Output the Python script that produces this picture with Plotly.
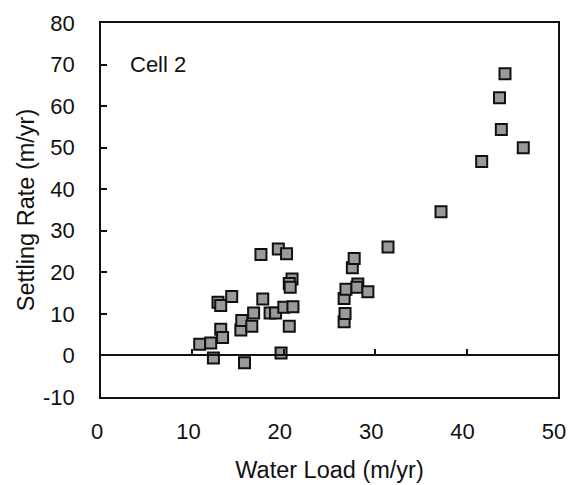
import plotly.graph_objects as go

water_load = [10.8, 12.0, 12.3, 13.1, 13.3, 12.8, 13.1, 14.3, 15.7, 15.3, 15.4, 16.5, 16.7,
              17.5, 17.7, 18.5, 19.1, 19.4, 20.3, 19.7, 20.6, 20.0, 21.0, 20.9, 20.6, 20.7,
              26.6, 26.7, 26.6, 26.8, 27.5, 27.7, 28.1, 28.0, 29.2, 31.4,
              37.2, 41.65, 43.6, 43.8, 44.2, 46.2]
settling_rate = [2.7, 3.0, -0.6, 6.3, 4.3, 12.8, 12.0, 14.2, -1.75, 6.1, 8.4, 7.0, 10.2,
                 24.3, 13.6, 10.2, 10.2, 25.6, 24.5, 0.6, 7.0, 11.6, 11.7, 18.4, 17.3, 16.4,
                 8.1, 10.1, 13.7, 15.9, 21.1, 23.3, 17.2, 16.4, 15.3, 26.1,
                 34.6, 46.7, 62.0, 54.4, 67.8, 50.0]

x_ticks = [0, 10, 20, 30, 40, 50]
y_ticks = [-10, 0, 10, 20, 30, 40, 50, 60, 70, 80]
y_tick_text = [str(v) for v in y_ticks]

font_family = "Liberation Sans, Arial, sans-serif"

fig = go.Figure()
fig.add_trace(go.Scatter(
    x=water_load, y=settling_rate, mode="markers",
    marker=dict(symbol="square", size=11, color="#9a9a9a",
                line=dict(color="#111111", width=2)),
    xaxis="x", yaxis="y", showlegend=False,
))
# invisible trace to activate zero-line axis
fig.add_trace(go.Scatter(x=[0, 50], y=[0, 0], mode="lines",
                         line=dict(color="rgba(0,0,0,0)"),
                         xaxis="x2", yaxis="y", showlegend=False, hoverinfo="skip"))

fig.add_annotation(x=2.9, y=70, xref="x", yref="y", text="Cell 2", showarrow=False,
                   xanchor="left", yanchor="middle",
                   font=dict(family=font_family, size=22, color="#111"))

fig.update_layout(
    width=569, height=485,
    margin=dict(l=101, r=11, t=23, b=88, autoexpand=False),
    paper_bgcolor="white", plot_bgcolor="white",
    font=dict(family=font_family, size=22, color="#111"),
    xaxis=dict(range=[0, 50], tickvals=x_ticks, ticks="", showline=True,
               linecolor="#111", linewidth=1.5, mirror=True, showgrid=False,
               zeroline=False, ticklabelstandoff=14, automargin=False,
               ticklabeloverflow="allow", ticklabelshift=-4,
               title=dict(text="Water Load (m/yr)", font=dict(size=23.5), standoff=18)),
    xaxis2=dict(range=[0, 50], overlaying="x", anchor="free", position=10/90,
                side="bottom", tickvals=[10, 20, 30, 40], ticks="inside", ticklen=6,
                tickwidth=1.5, tickcolor="#111", showticklabels=False,
                showline=True, linecolor="#111", linewidth=1.5, showgrid=False,
                zeroline=False, automargin=False),
    yaxis=dict(range=[-10, 80], tickvals=y_ticks, ticktext=y_tick_text,
               ticks="inside", ticklen=6,
               tickwidth=1.5, tickcolor="#111", showline=True, linecolor="#111",
               linewidth=1.5, mirror=True, showgrid=False, zeroline=False,
               ticklabelstandoff=20, automargin=False,
               title=dict(text="Settling Rate (m/yr)", font=dict(size=23.5), standoff=2)),
)

fig.write_html("out.html", config={"displayModeBar": False},
               post_script="document.body.style.margin='0';")
